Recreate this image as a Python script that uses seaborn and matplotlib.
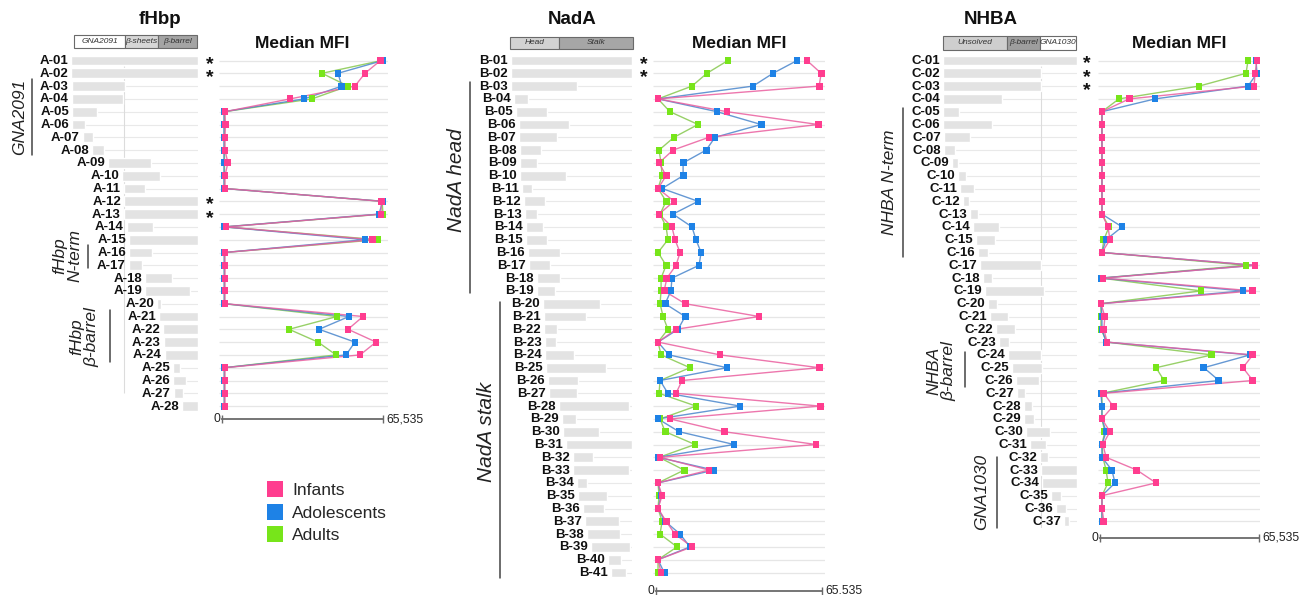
import numpy as np
import pandas as pd
import matplotlib
matplotlib.use("Agg")
import matplotlib.pyplot as plt
import seaborn as sns
from matplotlib.lines import Line2D

# ---------------- data ----------------
groups = ["Infants", "Adolescents", "Adults"]

# fHbp
fhbp_labels = [f"A-{i:02d}" for i in range(1, 29)]
fhbp_start = [0, 0, 2, 2, 2, 2, 24, 42, 74, 102, 106, 106, 106, 112, 116, 116, 116, 148, 148, 172,
              176, 184, 186, 188, 204, 204, 206, 222]
fhbp_end = [254, 254, 108, 104, 52, 28, 44, 66, 160, 178, 148, 254, 254, 164, 254, 162, 142, 202, 238, 180,
            254, 254, 254, 254, 218, 230, 224, 254]
fhbp_infants = [64500, 58200, 54100, 27700, 1200, 1400, 1200, 1200, 2400, 1200, 1200, 64900, 64700, 1600,
                61400, 1200, 1200, 1200, 1200, 1200, 57400, 51300, 62700, 56200, 1200, 1200, 1200, 1200]
fhbp_adolescents = [65500, 47200, 48800, 33400, 800, 800, 800, 800, 800, 800, 800, 65400, 63900, 800,
                    58200, 900, 900, 900, 900, 900, 51700, 39500, 54100, 50500, 900, 900, 900, 900]
fhbp_adults = [65000, 40700, 51300, 36600, 1000, 1000, 1000, 1000, 1000, 1000, 1000, 65200, 65500, 1000,
               63500, 1000, 1000, 1000, 1000, 1000, 46800, 27300, 39100, 46400, 1000, 1000, 1000, 1000]
fhbp_domains = ["GNA2091", "β-sheets", "β-barrel"]
fhbp_domain_edges = [0, 106, 174, 254]
fhbp_domain_colors = ["#ffffff", "#d6d6d6", "#a4a4a4"]
fhbp_stars = ["A-01", "A-02", "A-12", "A-13"]

# NadA
nada_labels = [f"B-{i:02d}" for i in range(1, 42)]
nada_start = [0, 0, 0, 9, 15, 24, 24, 27, 27, 27, 33, 39, 42, 45, 45, 51, 54, 78, 78, 96, 99, 99, 102, 102,
              105, 111, 114, 144, 153, 156, 165, 186, 186, 198, 201, 216, 222, 228, 240, 291, 300]
nada_end = [363, 363, 198, 51, 108, 174, 138, 90, 78, 165, 63, 102, 78, 96, 108, 147, 117, 147, 132, 267,
            225, 138, 135, 189, 285, 201, 198, 354, 195, 264, 363, 246, 354, 228, 288, 279, 324, 327, 357,
            330, 345]
nada_infants = [59600, 65200, 64400, 800, 28000, 64000, 20900, 6700, 1200, 4000, 800, 7100, 1200, 6300,
                7500, 9500, 7900, 4300, 3200, 11500, 40700, 7900, 800, 25300, 64400, 10300, 7900, 64800,
                5500, 26900, 63200, 1600, 20900, 800, 2400, 800, 4000, 7500, 14200, 800, 2000]
nada_adolescents = [55700, 46200, 38300, 800, 24100, 41500, 23300, 19800, 10700, 10700, 2400, 16600, 6700,
                    14200, 15800, 17800, 17000, 6300, 5900, 3600, 11500, 8700, 800, 5100, 28000, 1600, 4700,
                    33200, 800, 9100, 30800, 800, 22900, 800, 2000, 800, 3600, 9500, 13400, 800, 3200]
nada_adults = [28400, 20100, 14200, 800, 5500, 16600, 7100, 1200, 2000, 2400, 800, 4000, 1600, 4000, 4700,
               800, 4000, 2000, 2000, 1600, 2800, 4700, 800, 2000, 13400, 1600, 1200, 15800, 1600, 3600,
               15400, 1200, 11100, 800, 1200, 800, 2400, 1600, 8300, 800, 800]
nada_domains = ["Head", "Stalk"]
nada_domain_edges = [0, 144, 363]
nada_domain_colors = ["#d2d2d2", "#a6a6a6"]
nada_stars = ["B-01", "B-02"]

# NHBA
nhba_labels = [f"C-{i:02d}" for i in range(1, 38)]
nhba_start = [0, 0, 0, 0, 0, 0, 4, 4, 32, 53, 60, 70, 95, 105, 116, 123, 130, 140, 147, 158, 165, 186, 196,
              228, 242, 256, 259, 284, 284, 291, 305, 340, 343, 347, 378, 396, 424]
nhba_end = [469, 343, 343, 207, 56, 172, 95, 42, 53, 81, 109, 91, 123, 196, 182, 158, 343, 172, 354, 189,
            228, 252, 231, 343, 347, 336, 287, 312, 319, 375, 361, 368, 469, 469, 413, 431, 441]
nhba_infants = [64700, 63900, 63500, 12000, 800, 800, 800, 800, 800, 800, 800, 800, 800, 3300, 4100, 800,
                63900, 1200, 63000, 400, 2000, 1600, 2900, 63000, 58900, 63000, 1600, 5400, 800, 4100, 1200,
                2500, 15200, 23100, 800, 800, 1600]
nhba_adolescents = [64300, 64700, 61000, 22700, 800, 800, 800, 800, 800, 800, 800, 800, 800, 9100, 2500,
                    800, 63900, 200, 58900, 400, 800, 800, 2500, 61800, 42800, 49000, 400, 800, 800, 2500,
                    800, 800, 4900, 6200, 800, 800, 800]
nhba_adults = [61000, 60200, 40800, 7800, 800, 800, 800, 800, 800, 800, 800, 800, 800, 3700, 1600, 800,
               60200, 400, 41600, 400, 400, 400, 2900, 46100, 23100, 26400, 800, 800, 800, 2000, 800, 1200,
               2500, 3300, 800, 800, 800]
nhba_domains = ["Unsolved", "β-barrel", "GNA1030"]
nhba_domain_edges = [0, 224, 343, 469]
nhba_domain_colors = ["#cecece", "#9e9e9e", "#ffffff"]
nhba_stars = ["C-01", "C-02", "C-03"]

MFI_MAX = 65535

# ---------------- styling ----------------
sns.set_theme(style="white")
plt.rcParams["font.family"] = ["Liberation Sans", "DejaVu Sans"]

marker_pal = {"Infants": "#ff3d8f", "Adolescents": "#1e82e6", "Adults": "#77e51a"}
line_pal = {"Infants": "#ea5f9f", "Adolescents": "#4a86cc", "Adults": "#86c84e"}
draw_order = ["Adults", "Adolescents", "Infants"]

W, H = 1313, 595
fig = plt.figure(figsize=(W / 100, H / 100), dpi=100)
ROW0, ROW = 60.5, 12.8


def ax_px(x0, y0, x1, y1):
    return fig.add_axes([x0 / W, 1 - y1 / H, (x1 - x0) / W, (y1 - y0) / H])


def star_runs(idx):
    runs, cur = [], [idx[0]]
    for k in idx[1:]:
        if k == cur[-1] + 1:
            cur.append(k)
        else:
            runs.append(cur)
            cur = [k]
    runs.append(cur)
    return runs


def draw_panel(title, labels, start, end, infants, adolescents, adults,
               domains, edges, dcolors, stars, cfg):
    n = len(labels)
    rows = np.arange(n)
    top = ROW0 - ROW / 2
    bot = top + ROW * n
    length = edges[-1]

    # ---- peptide bars ----
    axb = ax_px(cfg["bar"][0], top, cfg["bar"][1], bot)
    axb.set_xlim(0, length)
    axb.set_ylim(n - 0.5, -0.5)
    axb.hlines(rows, start, length, color="#e9e9e9", lw=0.8, zorder=0)
    if cfg.get("vline") is not None:
        axb.vlines(cfg["vline"], 0.45, n - 0.5 - cfg.get("vline_cut", 0), color="#dcdcdc", lw=0.8, zorder=0.5)
    axb.barh(rows, np.array(end) - np.array(start), left=start, height=0.78,
             color="#e3e3e3", zorder=1)
    for i, (lab, s) in enumerate(zip(labels, start)):
        axb.annotate(lab, xy=(s, i), xytext=(-3, -0.5), textcoords="offset pixels",
                     ha="right", va="center", fontsize=9.5, fontweight="bold", color="#111")
    # asterisks: consecutive rows share one stacked text
    idx = [labels.index(lab) for lab in stars]
    for run in star_runs(idx):
        mid = (run[0] + run[-1]) / 2
        axb.annotate("\n".join(["*"] * len(run)), xy=(1, mid), xycoords=("axes fraction", "data"),
                     xytext=(cfg["star_dx"], -4), textcoords="offset pixels",
                     ha="center", va="center", fontsize=14, fontweight="bold", color="#111",
                     linespacing=0.73)
    axb.axis("off")

    # ---- domain header ----
    hx0, hx1, hy0, hy1 = cfg["head"]
    axh = ax_px(hx0, hy0, hx1, hy1)
    axh.set_xlim(0, length)
    axh.set_ylim(-0.5, 0.5)
    for name, a, b, c in zip(domains, edges[:-1], edges[1:], dcolors):
        axh.barh(0, b - a, left=a, height=1, color=c, edgecolor="#6a6a6a", lw=0.8, clip_on=False)
        axh.text((a + b) / 2, 0, name, ha="center", va="center", fontsize=6.0,
                 style="italic", color="#333")
    axh.axis("off")

    # ---- MFI lines ----
    x0, x1, gl, gr = cfg["mfi"]
    s = MFI_MAX / (x1 - x0)
    axl = ax_px(gl, top, gr, bot)
    xl = (-(x0 - gl) * s, MFI_MAX + (gr - x1) * s)
    axl.hlines(rows, xl[0], xl[1], color="#e6e6e6", lw=0.9, zorder=0)
    df = pd.concat([
        pd.DataFrame({"row": rows, "mfi": vals, "group": g})
        for g, vals in zip(["Adults", "Adolescents", "Infants"], [adults, adolescents, infants])
    ], ignore_index=True)
    sns.lineplot(data=df, x="mfi", y="row", hue="group", hue_order=draw_order, palette=line_pal,
                 orient="y", sort=True, estimator=None, lw=1.0, alpha=0.85, legend=False, ax=axl)
    sns.scatterplot(data=df, x="mfi", y="row", hue="group", palette=marker_pal, marker="s", s=24,
                    linewidth=0, legend=False, ax=axl, zorder=3)
    axl.set_xlim(*xl)
    axl.set_ylim(n - 0.5, -0.5)
    for sp in ["left", "top", "right"]:
        axl.spines[sp].set_visible(False)
    axl.spines["bottom"].set_bounds(0, MFI_MAX)
    axl.spines["bottom"].set_color("#6a6a6a")
    axl.spines["bottom"].set_linewidth(1.3)
    axl.spines["bottom"].set_position(("outward", (cfg["axis_y"] - bot) * 0.72))
    axl.set_xticks([0, MFI_MAX])
    axl.set_xticklabels([])
    axl.set_yticks([])
    axl.tick_params(axis="x", bottom=True, direction="inout", length=6, width=1, color="#6a6a6a")
    axl.set_xlabel("")
    axl.set_ylabel("")
    fig.text((x0 - 2) / W, 1 - cfg["axis_y"] / H, "0", ha="right", va="center", fontsize=8.7, color="#222")
    fig.text((x1 + 3) / W, 1 - cfg["axis_y"] / H, cfg["max_label"], ha="left", va="center",
             fontsize=8.7, color="#222")

    # ---- titles ----
    fig.text(cfg["title_x"] / W, 1 - 20 / H, title, ha="center", va="center", fontsize=13.5,
             fontweight="bold", color="#111")
    fig.text((x0 + x1) / 2 / W, 1 - 43 / H, "Median MFI", ha="center", va="center", fontsize=12.5,
             fontweight="bold", color="#111")

    # ---- section annotations ----
    for txt, tx, ty, fs, lx, ly0, ly1 in cfg["sections"]:
        fig.text(tx / W, 1 - ty / H, txt, rotation=90, ha="center", va="center", fontsize=fs,
                 style="italic", color="#222", multialignment="center", linespacing=1.0)
        fig.add_artist(Line2D([lx / W, lx / W], [1 - ly0 / H, 1 - ly1 / H], color="#444", lw=1.1))


draw_panel("fHbp", fhbp_labels, fhbp_start, fhbp_end, fhbp_infants, fhbp_adolescents, fhbp_adults,
           fhbp_domains, fhbp_domain_edges, fhbp_domain_colors, fhbp_stars,
           dict(bar=(71, 198), head=(74, 197, 35, 48), mfi=(222, 383, 219, 388), axis_y=419,
                max_label="65,535", title_x=160, star_dx=12, vline=106, vline_cut=1.5,
                sections=[("GNA2091", 20, 117, 12.5, 32, 79, 155),
                          ("fHbp\nN-term", 67, 256, 12.5, 88, 245, 268),
                          ("fHbp\nβ-barrel", 84, 337, 12.5, 110, 310, 362)]))

draw_panel("NadA", nada_labels, nada_start, nada_end, nada_infants, nada_adolescents, nada_adults,
           nada_domains, nada_domain_edges, nada_domain_colors, nada_stars,
           dict(bar=(511, 632), head=(510, 633, 37, 49), mfi=(656, 822, 653, 825), axis_y=591,
                max_label="65.535", title_x=572, star_dx=12, vline=None,
                sections=[("NadA head", 457, 180, 15, 470, 82, 293),
                          ("NadA stalk", 487, 432, 15, 500, 302, 578)]))

draw_panel("NHBA", nhba_labels, nhba_start, nhba_end, nhba_infants, nhba_adolescents, nhba_adults,
           nhba_domains, nhba_domain_edges, nhba_domain_colors, nhba_stars,
           dict(bar=(943, 1077), head=(943, 1076, 36, 50), mfi=(1100, 1259, 1098, 1260), axis_y=538,
                max_label="65,535", title_x=991, star_dx=10, vline=343,
                sections=[("NHBA N-term", 890, 182, 12.5, 903, 108, 257),
                          ("NHBA\nβ-barrel", 941, 371, 12.5, 965, 352, 387),
                          ("GNA1030", 982, 492, 12.5, 997, 457, 528)]))

# ---- legend ----
handles = [Line2D([], [], ls="none", marker="s", markersize=11.5, markeredgewidth=0,
                  color=marker_pal[g], label=g) for g in groups]
fig.legend(handles=handles, loc="upper left", bbox_to_anchor=(266 / W, 1 - 483 / H), frameon=False,
           fontsize=12.5, handlelength=1.0, handletextpad=0.5, labelspacing=0.42, borderaxespad=0,
           borderpad=0)

fig.savefig("out.png", dpi=100)
